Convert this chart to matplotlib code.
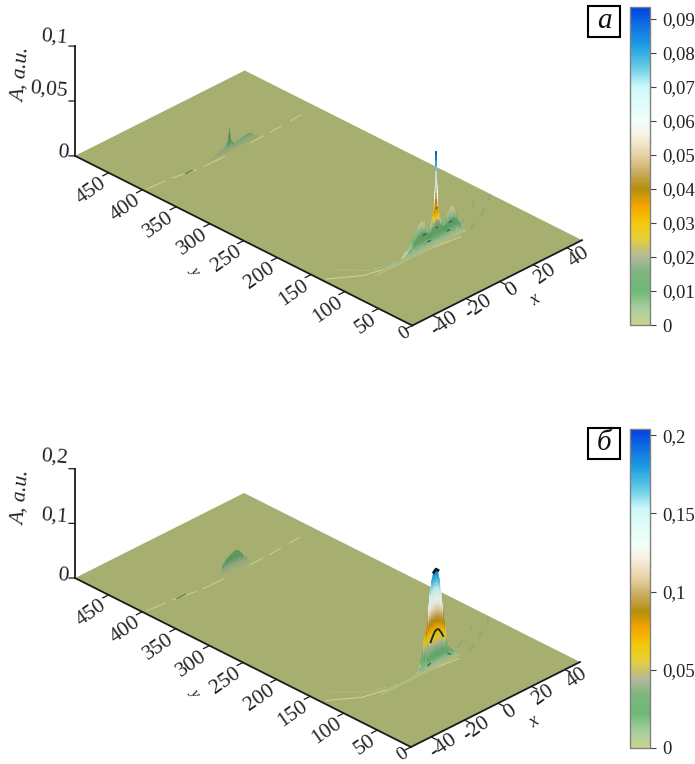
import numpy as np
import matplotlib
matplotlib.use("Agg")
import matplotlib.pyplot as plt
from matplotlib.cm import ScalarMappable
from matplotlib.colors import LinearSegmentedColormap, Normalize
from matplotlib.patches import Rectangle
from mpl_toolkits.mplot3d import proj3d

plt.rcParams["font.family"] = ["Liberation Serif", "DejaVu Serif"]

W, H = 695, 764

# colour scale (fraction of bar, colour)
cbar_stops = [(0, "#ccd28c"), (.05, "#a8cf9f"), (.107, "#6db873"), (.17, "#80b680"),
              (.214, "#b3b89c"), (.27, "#e3cf3c"), (.32, "#f2c90a"), (.374, "#f5a500"),
              (.428, "#b58f0b"), (.48, "#c9ab62"), (.535, "#e8d3a7"), (.6, "#f8f3e6"),
              (.64, "#f2fff9"), (.75, "#cdf9f9"), (.81, "#68cde4"), (.877, "#1fa0e3"),
              (.96, "#0a62e0"), (1, "#0040e0")]

x_lim = (-52, 49)
y_lim = (0, 500)
x_ticks = [-40, -20, 0, 20, 40]
y_ticks = [0, 50, 100, 150, 200, 250, 300, 350, 400, 450]

# arcs on the plane, (x, y)
near_arc_x = [-50, -37, -24, -11, 2, 15]
near_arc_y = [132, 110, 102, 101, 99, 95]
inner_arc_x = [-43, -32, -24]
inner_arc_y = [141, 113, 107]
crescents = [([23, 27], [100, 104]), ([34, 38], [112, 118]), ([45, 48], [128, 134]),
             ([22, 26], [113, 118]), ([36, 39], [130, 136])]
far_arc_segments = [([-50, -40], [398, 396]), ([-36, -24], [395, 390]), ([-20, -8], [389, 388]),
                    ([8, 16], [389, 390]), ([20, 27], [390, 391]), ([33, 39], [392, 393])]

# panel a: height profiles across x at fixed y, back to front
a_far_y = 393
a_far_x = [-14, -11, -8, -6, -5, -3.6, -3, -2.4, -1, 1, 4, 7, 10, 12, 14]
a_far_z = [0, .002, .004, .005, .006, .01, .02, .01, .006, .005, .006, .007, .006, .002, 0]

a_rear_y = 106
a_rear_x = [-16, -13, -10, -8, -6, -4, -2, 0, 1.5, 3.2, 4, 4.7, 5.4, 6.2, 7.5, 9, 11, 13, 14.5, 16, 18, 20, 21]
a_rear_z = [0, .005, .01, .016, .022, .025, .022, .015, .017, .027, .042, .082, .042, .027, .016, .015, .018,
            .024, .025, .02, .012, .004, 0]
a_mid_y = 103
a_mid_x = [-16, -13, -10, -8, -6, -4, -2, 0, 2, 3, 4, 5, 6, 8, 10, 12, 14, 16, 18, 20, 21]
a_mid_z = [0, .004, .009, .013, .016, .017, .014, .012, .016, .02, .022, .02, .016, .012, .014, .016, .016,
           .013, .007, .002, 0]
a_front_y = 100
a_front_x = [-34, -30, -26, -23, -20, -17, -14, -10, -6, -2, 2, 6, 10, 14, 18, 20]
a_front_z = [0, .001, .004, .005, .002, .002, .004, .006, .008, .009, .01, .01, .009, .008, .004, 0]
a_spike_z = [.03, .035, .04, .045, .05, .055, .06, .065, .07, .075, .08, .082]
a_spike_x = 4.7

# panel b
b_far_y = 395
b_far_x = [-7, -6, -4, -1, 1, 2, 3.5, 6, 8, 10, 11]
b_far_z = [0, .015, .024, .029, .032, .033, .03, .018, .01, .003, 0]

b_rear_y = 106
b_rear_x = [-5, -3.5, -2, -.5, 1, 2, 3, 4, 5.3, 6.5, 7.5, 8.5, 9.5, 10.5, 11.5, 12.5, 13.5, 14.5]
b_rear_z = [0, .02, .045, .07, .105, .135, .155, .168, .172, .168, .15, .125, .095, .065, .04, .02, .006, 0]
b_arch_y = 102
b_arch_x = [-6, -4, -2, 0, 1.5, 3, 4.3, 5.5, 7, 9, 11, 13, 15, 16]
b_arch_z = [0, .012, .03, .045, .055, .064, .066, .064, .055, .04, .025, .012, .003, 0]
b_front_y = 99
b_front_x = [-30, -26, -22, -18, -14, -10, -7, -3, 0, 3, 5, 7, 10, 13, 15, 17]
b_front_z = [0, .004, .006, .002, .003, .006, .012, .02, .028, .03, .032, .03, .026, .016, .008, 0]

# dark contour marks: xs, y, zs
a_marks = [([-3, -1.5], 99, [.008, .008]), ([8.5, 10], 99, [.009, .009]), ([3.2, 4], 102, [.015, .015]),
           ([-4.5, -3], 102, [.014, .014]), ([11, 12.5], 102, [.014, .014]), ([4.3, 5], 105, [.031, .031])]
a_far_marks = [([-30, -26], 391, [.0005, .0005])]
b_marks = [([-2.5, -1], 98, [.012, .014]), ([9.5, 11], 98, [.016, .012])]
b_arch_top = ([.5, 1.5, 3, 4.3, 5.5, 7, 8], 101.5, [.048, .055, .064, .066, .064, .055, .048])
b_peak_top = ([4, 5.3, 6.5], 105.5, [.168, .172, .168])
b_far_marks = [([-34, -29], 393, [.001, .001])]

cmap = LinearSegmentedColormap.from_list("bar", cbar_stops, N=512)
fill_steps = np.linspace(0, 1, 31)


def draw_slice(ax, y, xs, zs, norm, zo, gain=1.0, dim=1.0):
    X = np.tile(np.array(xs, dtype=float), (len(fill_steps), 1))
    Z = np.outer(fill_steps, zs)
    Y = np.full_like(X, y)
    mid = (Z[:-1, :-1] + Z[1:, :-1] + Z[:-1, 1:] + Z[1:, 1:]) / 4
    cols = cmap(norm(mid * gain))
    cols[..., :3] *= dim
    ax.plot_surface(X, Y, Z, facecolors=cols, rstride=1, cstride=1,
                    shade=False, linewidth=.3, zorder=zo)


def draw_marks(ax, marks, zo, color="#2f5a45", lw=.8):
    for xs, y, zs in marks:
        ax.plot(xs, [y] * len(xs), zs, color=color, lw=lw, zorder=zo)


def draw_arcs(ax):
    ax.plot(near_arc_x, near_arc_y, 0, color="#ccd28e", lw=.8, zorder=2)
    ax.plot(inner_arc_x, inner_arc_y, 0, color="#b4bc80", lw=.6, zorder=2)
    for xs, ys in crescents:
        ax.plot(xs, ys, 0, color="#93a47a", lw=1.4, alpha=.8, zorder=2)
    for xs, ys in far_arc_segments:
        ax.plot(xs, ys, 0, color="#c8cd88", lw=.8, zorder=2)


def label_at(ax, x, y, z, s, dx, dy, **kw):
    # put a text at a 3d point plus a pixel offset
    px, py, _ = proj3d.proj_transform(x, y, z, ax.get_proj())
    d = ax.transData.transform((px, py))
    fig.text((d[0] + dx) / W, (d[1] - dy) / H, s, color="#222222", **kw)


def draw_frame(ax, z_ticks, z_labels, z_off):
    col = "#1a1a1a"
    x0, x1 = x_lim
    ax.plot([x0, x0], [0, 500], 0, color=col, lw=1.3, zorder=20)
    ax.plot([x0, x1], [0, 0], 0, color=col, lw=1.3, zorder=20)
    ax.plot([x0, x0], [500, 500], [0, z_ticks[-1]], color=col, lw=1.3, zorder=20)
    for t in y_ticks:
        ax.plot([x0, x0 - 3.5], [t, t], 0, color=col, lw=.9, zorder=20)
        label_at(ax, x0, t, 0, str(t), -4, 9 if t else 5, rotation=35, ha="right", va="center",
                 rotation_mode="anchor", fontsize=15.5 if t else 14)
    for t in x_ticks:
        ax.plot([t, t], [0, -8], 0, color=col, lw=.9, zorder=20)
        label_at(ax, t, 0, 0, str(t), 12, 9, rotation=35, ha="center", va="center",
                 rotation_mode="anchor", fontsize=15.5)
    for z, lab, off in zip(z_ticks, z_labels, z_off):
        ax.plot([x0, x0 - 1.8], [500, 504.4], [z, z], color=col, lw=.9, zorder=20)
        label_at(ax, x0, 500, z, lab, -7, off, rotation=-5, ha="right", va="center",
                 rotation_mode="anchor", fontsize=15.5)
    label_at(ax, -.5, -54, 0, "x", 0, 0, rotation=35, ha="center", va="center", style="italic", fontsize=13)
    label_at(ax, -83, 241, 0, "y", -3, 0, rotation=-55, ha="center", va="center", style="italic", fontsize=11)


def new_panel(zmax, left_px, right_px):
    S0 = 700
    ax = fig.add_axes([0, 0, S0 / W, S0 / H], projection="3d", proj_type="ortho", computed_zorder=False)
    ax.view_init(elev=30.2, azim=-135)
    ax.set_box_aspect((240, 477, 127))
    ax.set_xlim(*x_lim)
    ax.set_ylim(*y_lim)
    ax.set_zlim(0, zmax)
    ax.set_axis_off()
    ax.patch.set_visible(False)

    # move the box so the plane corners land where they are in the reference
    fig.canvas.draw()
    pts = []
    for x, y in [(x_lim[0], y_lim[1]), (x_lim[1], y_lim[0])]:
        px, py, _ = proj3d.proj_transform(x, y, 0, ax.get_proj())
        pts.append(ax.transData.transform((px, py)))
    pL, pR = np.array(pts)
    s = (right_px[0] - left_px[0]) / (pR[0] - pL[0])
    bb = ax.get_position()
    c = np.array([(bb.x0 + bb.x1) / 2 * W, (bb.y0 + bb.y1) / 2 * H])
    target = np.array([(left_px[0] + right_px[0]) / 2, H - (left_px[1] + right_px[1]) / 2])
    c2 = target - s * ((pL + pR) / 2 - c)
    side = (bb.x1 - bb.x0) * W * s
    ax.set_position([(c2[0] - side / 2) / W, (c2[1] - side / 2) / H, side / W, side / H])
    ax.apply_aspect()
    return ax


def draw_colorbar(top, bottom, vmax, ticks, labels):
    cax = fig.add_axes([630 / W, 1 - bottom / H, 20 / W, (bottom - top) / H])
    sm = ScalarMappable(Normalize(0, vmax), cmap)
    cb = fig.colorbar(sm, cax=cax)
    cb.set_ticks(ticks, labels=labels)
    cb.ax.tick_params(length=4.3, width=.8, color="#444444", pad=4.3, labelsize=13.5, labelcolor="#222222")
    cb.outline.set_edgecolor("#808080")
    cb.outline.set_linewidth(1)


def panel_box(top, letter):
    fig.add_artist(Rectangle((588 / W, 1 - (top + 31) / H), 32 / W, 31 / H, transform=fig.transFigure,
                             fc="white", ec="black", lw=1.5))
    fig.text(604 / W, 1 - (top + 15) / H, letter, style="italic", fontsize=21, ha="center", va="center",
             color="#111111")


def draw_plane(ax):
    ax.plot_surface(np.array([x_lim, x_lim]), np.array([[0, 0], [500, 500]]), np.zeros((2, 2)),
                    color="#a6ae70", shade=False, linewidth=0, zorder=1)


fig = plt.figure(figsize=(W / 100, H / 100), dpi=100, facecolor="white")

# panel a
norm_a = Normalize(0, .0935)
ax_a = new_panel(.1, (75, 155), (582, 241))
draw_plane(ax_a)
draw_arcs(ax_a)
draw_slice(ax_a, a_far_y, a_far_x, a_far_z, norm_a, 3, dim=.8)
draw_marks(ax_a, a_far_marks, 4, color="#66734a")
draw_slice(ax_a, a_rear_y, a_rear_x, a_rear_z, norm_a, 5)
for z0, z1 in zip(a_spike_z[:-1], a_spike_z[1:]):
    c = np.array(cmap(norm_a((z0 + z1) / 2 * 1.1)))
    c[:3] *= .88
    ax_a.plot([a_spike_x, a_spike_x], [a_rear_y, a_rear_y], [z0, z1], lw=1.4, color=c, zorder=5.5)
draw_slice(ax_a, a_mid_y, a_mid_x, a_mid_z, norm_a, 6, dim=.85)
draw_slice(ax_a, a_front_y, a_front_x, a_front_z, norm_a, 7, dim=.9)
draw_marks(ax_a, a_marks, 8)
draw_frame(ax_a, [0, .05, .1], ["0", "0,05", "0,1"], [-2, -10, -8])

# panel b
norm_b = Normalize(0, .204)
ax_b = new_panel(.2, (75, 577), (580, 663))
draw_plane(ax_b)
draw_arcs(ax_b)
draw_slice(ax_b, b_far_y, b_far_x, b_far_z, norm_b, 3, dim=.82)
draw_marks(ax_b, b_far_marks, 4, color="#66734a")
draw_slice(ax_b, b_rear_y, b_rear_x, b_rear_z, norm_b, 5, gain=1.12, dim=.95)
draw_marks(ax_b, [b_peak_top], 5.5, color="#0c1c22", lw=2)
draw_slice(ax_b, b_arch_y, b_arch_x, b_arch_z, norm_b, 6, gain=1.12, dim=.95)
draw_marks(ax_b, [b_arch_top], 6.5, color="#1c2418", lw=1.3)
draw_slice(ax_b, b_front_y, b_front_x, b_front_z, norm_b, 7, dim=.9)
draw_marks(ax_b, b_marks, 8)
draw_frame(ax_b, [0, .1, .2], ["0", "0,1", "0,2"], [-2, -6, -10])

fig.text(22 / W, 1 - 75 / H, "A, a.u.", rotation=85, style="italic", fontsize=15, ha="center", va="center",
         color="#222222")
fig.text(22 / W, 1 - 498 / H, "A, a.u.", rotation=85, style="italic", fontsize=15, ha="center", va="center",
         color="#222222")

draw_colorbar(7, 325, .0935, [0, .01, .02, .03, .04, .05, .06, .07, .08, .09],
              ["0", "0,01", "0,02", "0,03", "0,04", "0,05", "0,06", "0,07", "0,08", "0,09"])
draw_colorbar(429, 748, .204, [0, .05, .1, .15, .2], ["0", "0,05", "0,1", "0,15", "0,2"])
panel_box(6, "а")
panel_box(428, "б")

fig.savefig("out.png", dpi=100)
